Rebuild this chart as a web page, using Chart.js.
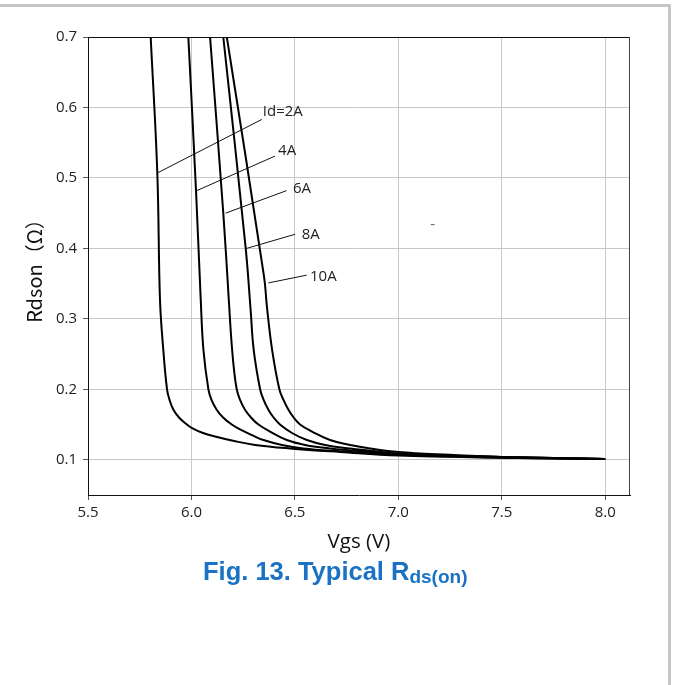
<!DOCTYPE html>
<html lang="en">
<head>
<meta charset="UTF-8">
<meta name="viewport" content="width=device-width, initial-scale=1.0">
<title>Typical Rds(on)</title>
<script src="https://cdn.jsdelivr.net/npm/chart.js"></script>
<style>
  html, body { margin: 0; padding: 0; background: #fff; }
  body { width: 673px; height: 685px; position: relative; overflow: hidden; }
  .frame {
    position: absolute; left: 0; top: 4px; width: 668px; height: 700px;
    border-top: 3px solid #c6c6c6; border-right: 3px solid #c6c6c6;
  }
  .chart-box { position: absolute; left: 0; top: 0; width: 673px; height: 685px; }
  .caption {
    position: absolute; left: 203px; top: 559px;
    font: bold 25.5px "Liberation Sans", Arial, sans-serif;
    line-height: 1; color: #1b72c4; white-space: nowrap;
  }
  .caption span { font-size: 19px; position: relative; top: 3px; }
</style>
</head>
<body>
<div class="frame"></div>
<div class="chart-box"><canvas id="rdsChart"></canvas></div>
<div class="caption">Fig. 13. Typical R<span>ds(on)</span></div>

<script>
  // axis ticks
  const xTicks = [5.5, 6.0, 6.5, 7.0, 7.5, 8.0];
  const yTicks = [0.1, 0.2, 0.3, 0.4, 0.5, 0.6, 0.7];

  // Rds(on) vs Vgs, one pair of arrays per drain current
  const vgs2A  = [5.803, 5.835, 5.848, 5.864, 5.882, 5.894, 5.913, 5.940, 5.974, 6.003, 6.056, 6.114, 6.201, 6.308, 6.477, 6.719, 7.000, 7.500, 8.000];
  const rds2A  = [0.700, 0.507, 0.327, 0.256, 0.200, 0.185, 0.171, 0.160, 0.151, 0.145, 0.138, 0.133, 0.127, 0.121, 0.116, 0.111, 0.106, 0.103, 0.101];

  const vgs4A  = [5.985, 6.022, 6.045, 6.058, 6.082, 6.097, 6.122, 6.153, 6.195, 6.235, 6.293, 6.348, 6.438, 6.541, 6.719, 7.000, 7.500, 8.000];
  const rds4A  = [0.700, 0.483, 0.327, 0.256, 0.200, 0.185, 0.171, 0.160, 0.150, 0.143, 0.135, 0.128, 0.121, 0.116, 0.112, 0.107, 0.103, 0.101];

  const vgs6A  = [6.090, 6.154, 6.180, 6.193, 6.205, 6.219, 6.235, 6.259, 6.288, 6.324, 6.380, 6.461, 6.549, 6.670, 6.864, 7.000, 7.500, 8.000];
  const rds6A  = [0.700, 0.450, 0.330, 0.270, 0.230, 0.200, 0.185, 0.171, 0.160, 0.150, 0.140, 0.128, 0.121, 0.116, 0.111, 0.108, 0.104, 0.101];

  const vgs8A  = [6.154, 6.262, 6.286, 6.301, 6.332, 6.349, 6.372, 6.397, 6.428, 6.486, 6.558, 6.646, 6.767, 6.888, 7.000, 7.500, 8.000];
  const rds8A  = [0.700, 0.401, 0.313, 0.256, 0.200, 0.185, 0.171, 0.160, 0.150, 0.138, 0.128, 0.121, 0.116, 0.112, 0.109, 0.104, 0.101];

  const vgs10A = [6.171, 6.351, 6.365, 6.390, 6.425, 6.445, 6.469, 6.494, 6.525, 6.583, 6.670, 6.767, 6.864, 7.000, 7.250, 7.500, 8.000];
  const rds10A = [0.700, 0.360, 0.317, 0.256, 0.200, 0.185, 0.171, 0.160, 0.150, 0.140, 0.128, 0.121, 0.116, 0.111, 0.107, 0.104, 0.101];

  // curve callouts: leader line start/end and label anchor
  const labelText = ['Id=2A', '4A', '6A', '8A', '10A'];
  const leadX0 = [5.835, 6.026, 6.165, 6.267, 6.372];
  const leadY0 = [0.507, 0.482, 0.450, 0.400, 0.351];
  const leadX1 = [6.340, 6.404, 6.460, 6.501, 6.557];
  const leadY1 = [0.583, 0.531, 0.482, 0.420, 0.362];
  const labelX = [6.345, 6.419, 6.491, 6.533, 6.573];
  const labelY = [0.594, 0.538, 0.484, 0.420, 0.360];

  const curves = [
    [vgs2A, rds2A], [vgs4A, rds4A], [vgs6A, rds6A], [vgs8A, rds8A], [vgs10A, rds10A]
  ];

  const datasets = curves.map(([vx, vy], i) => ({
    label: labelText[i],
    data: vx.map((v, k) => ({ x: v, y: vy[k] })),
    borderColor: '#000',
    borderWidth: 2,
    pointRadius: 0,
    fill: false,
    tension: 0.4
  }));

  labelText.forEach((t, i) => {
    datasets.push({
      label: 'lead ' + t,
      data: [{ x: leadX0[i], y: leadY0[i] }, { x: leadX1[i], y: leadY1[i] }],
      borderColor: '#111',
      borderWidth: 1,
      pointRadius: 0,
      fill: false
    });
  });

  // callout text next to the leader lines
  const curveLabels = {
    id: 'curveLabels',
    afterDatasetsDraw(chart) {
      const { ctx, scales: { x, y } } = chart;
      ctx.save();
      ctx.font = '15px "Open Sans"';
      ctx.fillStyle = '#222';
      ctx.textBaseline = 'middle';
      labelText.forEach((t, i) => {
        ctx.fillText(t, x.getPixelForValue(labelX[i]), y.getPixelForValue(labelY[i]));
      });
      // small stray dash in the plot
      ctx.fillStyle = '#666';
      ctx.fillText('-', x.getPixelForValue(7.155), y.getPixelForValue(0.433));
      ctx.restore();
    }
  };

  // top and right edge of the plot box
  const plotFrame = {
    id: 'plotFrame',
    afterDraw(chart) {
      const { ctx, chartArea: { left, top, right, bottom } } = chart;
      ctx.save();
      ctx.lineWidth = 1;
      ctx.strokeStyle = '#111';
      ctx.beginPath();
      ctx.moveTo(left, top + 0.5);
      ctx.lineTo(right, top + 0.5);
      ctx.stroke();
      ctx.strokeStyle = '#444';
      ctx.beginPath();
      ctx.moveTo(right - 0.5, top);
      ctx.lineTo(right - 0.5, bottom);
      ctx.stroke();
      ctx.restore();
    }
  };

  Chart.defaults.font.family = '"Open Sans", sans-serif';
  Chart.defaults.color = '#222';

  new Chart(document.getElementById('rdsChart'), {
    type: 'line',
    data: { datasets },
    options: {
      responsive: true,
      maintainAspectRatio: false,
      animation: false,
      layout: { padding: { left: 0, top: 37, right: 43, bottom: 125 } },
      plugins: {
        legend: { display: false },
        tooltip: { enabled: false }
      },
      scales: {
        x: {
          type: 'linear',
          min: 5.5,
          max: 8.12,
          afterBuildTicks: s => { s.ticks = xTicks.map(v => ({ value: v })); },
          afterFit: s => { s.height = 65; },
          grid: { color: '#c8c8c8', tickColor: '#555', tickLength: 5 },
          border: { color: '#111', width: 1 },
          ticks: { font: { size: 15 }, padding: 4, callback: v => v.toFixed(1) },
          title: {
            display: true,
            text: 'Vgs (V)',
            font: { size: 20.5 },
            color: '#111',
            padding: { top: 0, bottom: 6 }
          }
        },
        y: {
          type: 'linear',
          min: 0.05,
          max: 0.7,
          afterBuildTicks: s => { s.ticks = yTicks.map(v => ({ value: v })); },
          afterFit: s => { s.width = 88; },
          grid: { color: '#c8c8c8', tickColor: '#555', tickLength: 5 },
          border: { color: '#111', width: 1 },
          ticks: { font: { size: 15 }, padding: 6, callback: v => v.toFixed(1) },
          title: {
            display: true,
            text: 'Rdson（Ω）',
            font: { family: '"Noto Sans CJK SC", "Open Sans", sans-serif', size: 20 },
            color: '#111',
            padding: { top: 22, bottom: 0 }
          }
        }
      }
    },
    plugins: [curveLabels, plotFrame]
  });
</script>
</body>
</html>
